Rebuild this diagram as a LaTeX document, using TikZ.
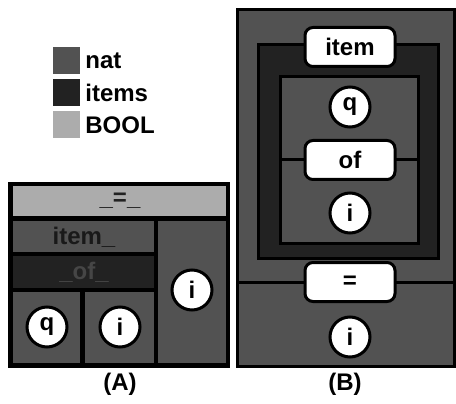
\documentclass[tikz,border=0pt]{standalone}
\usepackage{fontspec}
\setmainfont{Liberation Sans}
\usetikzlibrary{positioning}

\definecolor{natgray}{RGB}{82,82,82}
\definecolor{itemsgray}{RGB}{34,34,34}
\definecolor{boolgray}{RGB}{172,172,172}

\begin{document}
\begin{tikzpicture}[x=1pt, y=-1pt,
    font=\fontsize{24}{28}\selectfont\bfseries,
    key/.style={minimum size=27pt, inner sep=0pt},
    keytext/.style={right=5pt of #1, inner sep=0pt},
    var/.style={circle, draw, line width=3pt, fill=white, minimum size=40pt, inner sep=0pt},
    op/.style={rectangle, rounded corners=8pt, draw, line width=3pt, fill=white,
      minimum width=90pt, minimum height=39pt, inner sep=0pt},
    wall/.style={draw=black, line width=3pt}]
  \useasboundingbox (0,0) rectangle (456,404);

  % legend
  \node[key, fill=natgray]   (natkey)   at (66.5,60.5)  {};
  \node[key, fill=itemsgray] (itemskey) at (66.5,92.5)  {};
  \node[key, fill=boolgray]  (boolkey)  at (66.5,125)   {};
  \node[keytext=natkey]   (nattext)   {nat};
  \node[keytext=itemskey] (itemstext) {items};
  \node[keytext=boolkey]  (booltext)  {BOOL};

  % (A) boxes
  \fill[black]     (8,182)   rectangle (230,368);
  \fill[boolgray]  (13,186)  rectangle (226,216);
  \fill[natgray]   (13,221)  rectangle (154,252);
  \fill[itemsgray] (13,256)  rectangle (154,288);
  \fill[natgray]   (13,292)  rectangle (80,363);
  \fill[natgray]   (85,292)  rectangle (154,363);
  \fill[natgray]   (158,221) rectangle (226,363);
  \node[text=itemsgray] (eqA)   at (120,201) {\_=\_};
  \node[text=black!90]  (itemA) at (84,237)  {item\_};
  \node[text=natgray!85!black] (ofA) at (84,272) {\_of\_};
  \node[var] (qA)  at (47,327)  {q};
  \node[var] (iA)  at (120,327) {i};
  \node[var] (iA2) at (192,290) {i};
  \node (labA) at (120,384) {(A)};

  % (B) boxes
  \filldraw[wall, fill=natgray]   (237.5,10) rectangle (454.5,366.5);
  \filldraw[wall, fill=itemsgray] (258,45)   rectangle (438,258);
  \filldraw[wall, fill=natgray]   (280,77)   rectangle (418,243);
  \coordinate (ofleft)  at (280,160);
  \coordinate (ofright) at (418,160);
  \coordinate (eqleft)  at (237.5,282);
  \coordinate (eqright) at (454.5,282);
  \draw[wall] (ofleft) -- (ofright);
  \draw[wall] (eqleft) -- (eqright);
  \node[op]  (itemB) at (350,47)  {item};
  \node[var] (qB)    at (350,107) {q};
  \node[op]  (ofB)   at (350,160) {of};
  \node[var] (iB)    at (350,213) {i};
  \node[op]  (eqB)   at (350,282) {=};
  \node[var] (iB2)   at (350,337) {i};
  \node (labB) at (345,384) {(B)};
\end{tikzpicture}
\end{document}
